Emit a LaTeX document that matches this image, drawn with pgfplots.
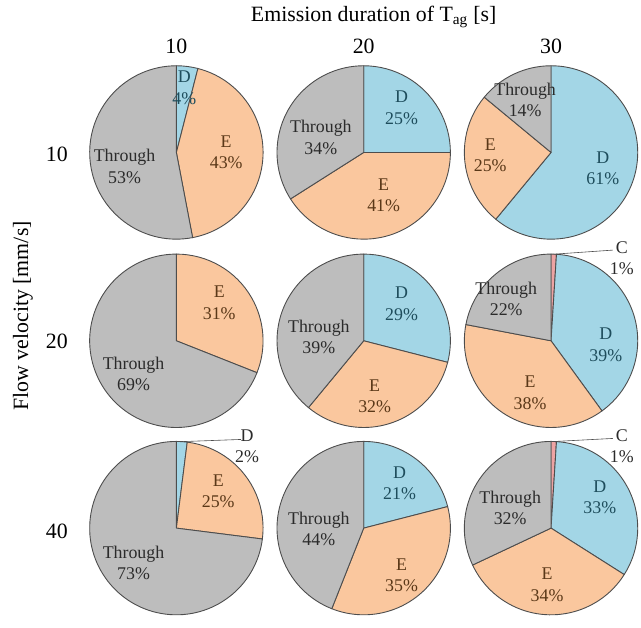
\documentclass[border=0pt]{standalone}
\usepackage{pgfplots}
\pgfplotsset{compat=1.18}
\usepackage{fontspec}
\setmainfont{Liberation Serif}
\definecolor{cD}{HTML}{A3D6E6}
\definecolor{cE}{HTML}{FAC79E}
\definecolor{cT}{HTML}{BDBDBD}
\definecolor{cC}{HTML}{EDA3A3}
\definecolor{edge}{HTML}{4D4D4D}
\definecolor{tD}{HTML}{1E4D5C}
\definecolor{tE}{HTML}{5A3818}
\definecolor{tT}{HTML}{2B2B2B}
\newcommand\lab{\fontsize{18}{21.5}\selectfont}
\newcommand\bigf{\fontsize{22}{26}\selectfont}
% one slice: centre x, centre y, from (%), to (%), colour
\newcommand\slice[5]{%
 \pgfmathsetmacro\aA{90-3.6*(#3)}%
 \pgfmathsetmacro\aB{90-3.6*(#4)}%
 \pgfmathsetmacro\pX{#1+87*cos(\aA)}%
 \pgfmathsetmacro\pY{#2-87*sin(\aA)}%
 \edef\doslice{\noexpand\addplot[fill=#5,draw=edge,line width=0.9bp,line join=round] coordinates {(#1,#2) (\pX,\pY)} arc[start angle=\aA,end angle=\aB,radius=87bp] -- cycle;}%
 \doslice}
% one pie: centre x, centre y, C, D, E, Through (percent, clockwise from 12 o'clock)
\newcommand\pie[6]{%
 \pgfmathsetmacro\sA{#3}%
 \pgfmathsetmacro\sB{#3+#4}%
 \pgfmathsetmacro\sC{#3+#4+#5}%
 \ifdim #3pt>0pt \slice{#1}{#2}{0}{\sA}{cC}\fi
 \ifdim #4pt>0pt \slice{#1}{#2}{\sA}{\sB}{cD}\fi
 \ifdim #5pt>0pt \slice{#1}{#2}{\sB}{\sC}{cE}\fi
 \ifdim #6pt>0pt \slice{#1}{#2}{\sC}{100}{cT}\fi
}
\begin{document}
\begin{tikzpicture}
\begin{axis}[x=1bp, y=1bp, y dir=reverse, xmin=0, xmax=641, ymin=0, ymax=618,
  hide axis, clip=false]
\path (axis cs:0,0) rectangle (axis cs:641,618);
% row 1 (flow 10)
\pie{177}{153}{0}{4}{43}{53}
\pie{365}{153}{0}{25}{41}{34}
\pie{553}{153}{0}{61}{25}{14}
% row 2 (flow 20)
\pie{177}{342}{0}{0}{31}{69}
\pie{365}{342}{0}{29}{32}{39}
\pie{553}{342}{1}{39}{38}{22}
% row 3 (flow 40)
\pie{177}{530}{0}{2}{25}{73}
\pie{365}{530}{0}{21}{35}{44}
\pie{553}{530}{1}{33}{34}{32}
% leader lines
\addplot[draw=edge, line width=0.6bp, no marks] coordinates {(555.7,255.1) (615,251)};
\addplot[draw=edge, line width=0.6bp, no marks] coordinates {(555.7,443.1) (615,440)};
\addplot[draw=edge, line width=0.6bp, no marks] coordinates {(182.5,443.2) (242,441)};
% titles
\node at (axis cs:375,17) {\bigf Emission duration of T\textsubscript{ag} [s]};
\node at (axis cs:177,47) {\bigf 10};
\node at (axis cs:365,47) {\bigf 20};
\node at (axis cs:553,47) {\bigf 30};
\node at (axis cs:57,155) {\bigf 10};
\node at (axis cs:57,343) {\bigf 20};
\node at (axis cs:57,533) {\bigf 40};
\node[rotate=90] at (axis cs:23,317) {\bigf Flow velocity [mm/s]};
% slice labels row 1
\node[align=center,text=tD,font=\lab] at (axis cs:185,88) {D\\4\%};
\node[align=center,text=tE,font=\lab] at (axis cs:227,153) {E\\43\%};
\node[align=center,text=tT,font=\lab] at (axis cs:125,167) {Through\\53\%};
\node[align=center,text=tD,font=\lab] at (axis cs:403,108) {D\\25\%};
\node[align=center,text=tT,font=\lab] at (axis cs:322,138) {Through\\34\%};
\node[align=center,text=tE,font=\lab] at (axis cs:385,196) {E\\41\%};
\node[align=center,text=tT,font=\lab] at (axis cs:527,100) {Through\\14\%};
\node[align=center,text=tE,font=\lab] at (axis cs:492,156) {E\\25\%};
\node[align=center,text=tD,font=\lab] at (axis cs:605,169) {D\\61\%};
% row 2
\node[align=center,text=tE,font=\lab] at (axis cs:220,304) {E\\31\%};
\node[align=center,text=tT,font=\lab] at (axis cs:134,375) {Through\\69\%};
\node[align=center,text=tD,font=\lab] at (axis cs:403,305) {D\\29\%};
\node[align=center,text=tT,font=\lab] at (axis cs:320,338) {Through\\39\%};
\node[align=center,text=tE,font=\lab] at (axis cs:376,398) {E\\32\%};
\node[align=center,text=tT,font=\lab] at (axis cs:508,300) {Through\\22\%};
\node[align=center,text=tD,font=\lab] at (axis cs:608,346) {D\\39\%};
\node[align=center,text=tE,font=\lab] at (axis cs:532,394) {E\\38\%};
\node[align=center,text=tT,font=\lab] at (axis cs:624,259) {C\\1\%};
% row 3
\node[align=center,text=tT,font=\lab] at (axis cs:248,448) {D\\2\%};
\node[align=center,text=tE,font=\lab] at (axis cs:219,493) {E\\25\%};
\node[align=center,text=tT,font=\lab] at (axis cs:134,565) {Through\\73\%};
\node[align=center,text=tD,font=\lab] at (axis cs:401,485) {D\\21\%};
\node[align=center,text=tT,font=\lab] at (axis cs:320,531) {Through\\44\%};
\node[align=center,text=tE,font=\lab] at (axis cs:403,577) {E\\35\%};
\node[align=center,text=tD,font=\lab] at (axis cs:602,499) {D\\33\%};
\node[align=center,text=tT,font=\lab] at (axis cs:512,510) {Through\\32\%};
\node[align=center,text=tE,font=\lab] at (axis cs:549,587) {E\\34\%};
\node[align=center,text=tT,font=\lab] at (axis cs:624,448) {C\\1\%};
\end{axis}
\end{tikzpicture}
\end{document}
